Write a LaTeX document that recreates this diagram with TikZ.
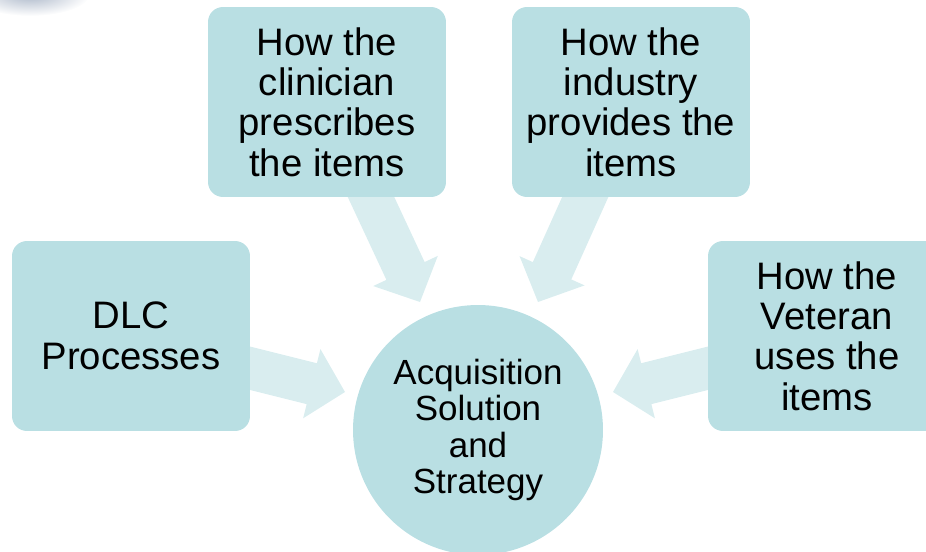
\documentclass[tikz,border=0pt]{standalone}
\usepackage{fontspec}
\setmainfont{Liberation Sans}
\usetikzlibrary{calc,backgrounds}

\definecolor{boxfill}{RGB}{185,223,227}
\definecolor{arrowfill}{RGB}{217,237,239}
\definecolor{blobgray}{RGB}{170,182,200}

% fat arrow from tail coordinate #1 to tip coordinate #2
\newcommand{\fatarrow}[2]{%
\coordinate (#1-h) at ($(#2)!19.5pt!(#1)$);
\fill[arrowfill] ($(#1)!12pt!90:(#2)$) -- ($(#1-h)!12pt!90:(#2)$)
 -- ($(#1-h)!20.3pt!90:(#2)$) -- (#2) -- ($(#1-h)!20.3pt!-90:(#2)$)
 -- ($(#1-h)!12pt!-90:(#2)$) -- ($(#1)!12pt!-90:(#2)$) -- cycle;}

\begin{document}
\begin{tikzpicture}[x=0.02cm,y=-0.02cm,
 box/.style={rectangle,rounded corners=8.5pt,fill=boxfill,minimum width=4.76cm,
  minimum height=3.8cm,align=center,font=\fontsize{21.8}{23}\selectfont},
 hub/.style={circle,fill=boxfill,minimum size=5cm,align=center,
  font=\fontsize{19.9}{20.8}\selectfont}]
\clip[use as bounding box] (0,0) rectangle (926,551);
\shade[inner color=blobgray,outer color=white] (30,-6) ellipse (60 and 22);

\node[box] (clin) at (327,102) {How the\\clinician\\prescribes\\the items};
\node[box] (ind) at (631,102) {How the\\industry\\provides the\\items};
\node[box] (dlc) at (131,336) {DLC\\Processes};
\node[box] (vet) at (827,336) {How the\\Veteran\\uses the\\items};
\node[hub] (acq) at (478,430) {Acquisition\\Solution\\and\\Strategy};

\coordinate (t1) at (364,182);
\coordinate (p1) at (420,302);
\coordinate (t2) at (592,182);
\coordinate (p2) at (538,302);
\coordinate (t3) at (233,364);
\coordinate (p3) at (345,392);
\coordinate (t4) at (725,364);
\coordinate (p4) at (613,392);
\begin{scope}[on background layer]
\fatarrow{t1}{p1}
\fatarrow{t2}{p2}
\fatarrow{t3}{p3}
\fatarrow{t4}{p4}
\end{scope}
\end{tikzpicture}
\end{document}
